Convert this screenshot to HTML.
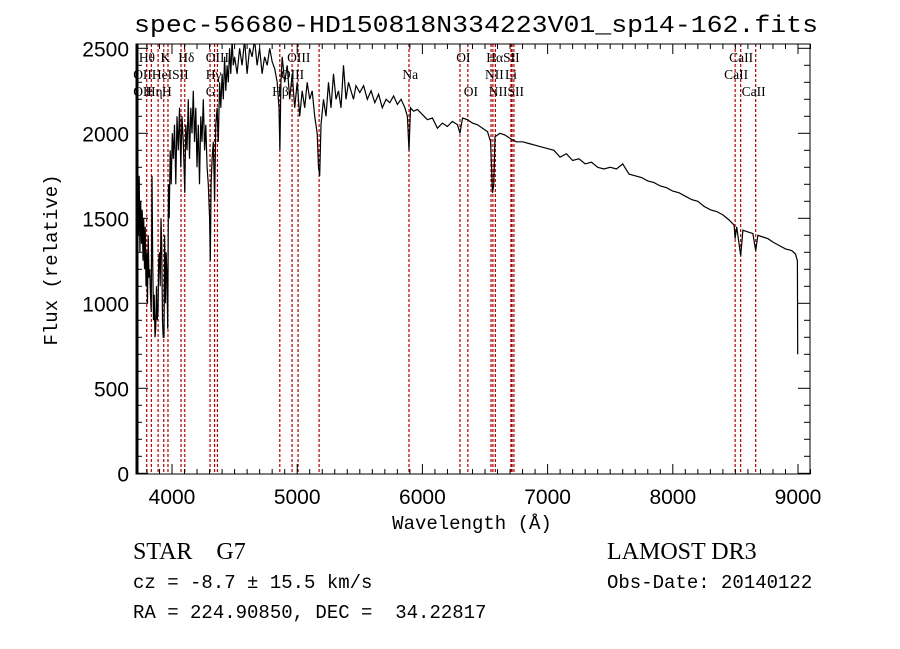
<!DOCTYPE html>
<html><head><meta charset="utf-8"><style>
body{margin:0;background:#fff}
svg{display:block}
text{fill:#000}
</style></head><body>
<svg id="chart" width="900" height="649" viewBox="0 0 900 649" xmlns="http://www.w3.org/2000/svg">
<rect width="900" height="649" fill="#fff"/>
<defs><clipPath id="clip"><rect x="136" y="44" width="674" height="430"/></clipPath></defs>
<text x="476" y="32" text-anchor="middle" font-family="Liberation Mono, monospace" font-size="24" textLength="684" lengthAdjust="spacingAndGlyphs">spec-56680-HD150818N334223V01_sp14-162.fits</text>
<g id="lines" clip-path="url(#clip)"></g>
<g id="labels"></g>
<g id="spec" clip-path="url(#clip)"></g>
<g id="axes"></g>
<text x="472" y="529" text-anchor="middle" font-family="Liberation Mono, monospace" font-size="19">Wavelength (Å)</text>
<text transform="translate(57,260) rotate(-90)" text-anchor="middle" font-family="Liberation Mono, monospace" font-size="19">Flux (relative)</text>
<text x="133" y="559" font-family="Liberation Serif, serif" font-size="24" xml:space="preserve">STAR    G7</text>
<text x="607" y="559" font-family="Liberation Serif, serif" font-size="24">LAMOST DR3</text>
<text x="133" y="588" font-family="Liberation Mono, monospace" font-size="19">cz = -8.7 ± 15.5 km/s</text>
<text x="607" y="588" font-family="Liberation Mono, monospace" font-size="19">Obs-Date: 20140122</text>
<text x="133" y="618" font-family="Liberation Mono, monospace" font-size="19" xml:space="preserve">RA = 224.90850, DEC =  34.22817</text>
</svg>
<script>
const wave=[3720,3722,3726,3732,3738,3744,3750,3756,3762,3768,3774,3780,3786,3792,3798,3804,3810,3816,3822,3828,3834,3840,3846,3852,3858,3864,3870,3876,3882,3888,3894,3900,3906,3912,3918,3924,3930,3936,3942,3948,3954,3960,3966,3972,3978,3986,3994,4002,4010,4020,4030,4040,4050,4060,4070,4080,4090,4102,4110,4120,4130,4140,4150,4160,4170,4180,4190,4200,4210,4220,4230,4240,4250,4260,4270,4280,4290,4300,4306,4312,4320,4330,4340,4350,4360,4370,4380,4390,4400,4410,4420,4430,4440,4450,4460,4470,4480,4490,4500,4520,4540,4560,4580,4600,4620,4640,4660,4680,4700,4720,4740,4760,4780,4800,4820,4840,4855,4862,4870,4880,4900,4920,4940,4960,4980,5000,5020,5040,5060,5080,5100,5120,5140,5160,5170,5180,5190,5210,5230,5250,5270,5290,5310,5330,5350,5370,5390,5410,5430,5450,5470,5500,5530,5560,5590,5620,5650,5680,5710,5740,5770,5800,5830,5860,5880,5893,5905,5930,5960,6000,6040,6080,6120,6160,6200,6240,6280,6300,6320,6360,6400,6440,6480,6520,6545,6560,6570,6580,6620,6660,6700,6750,6800,6850,6900,6950,7000,7050,7100,7150,7200,7250,7300,7350,7400,7450,7500,7550,7600,7650,7700,7750,7800,7850,7900,7950,8000,8050,8100,8150,8200,8250,8300,8350,8400,8450,8490,8498,8510,8542,8560,8600,8640,8662,8680,8720,8760,8800,8850,8900,8950,8980,8995,8998];
const flux=[0,300,1650,1400,1750,1300,1600,1350,1550,1250,1500,1200,1450,1100,1300,1000,1400,1150,1200,1050,950,1750,1250,900,1050,800,850,1100,900,950,1250,1300,1100,1500,1350,900,800,800,1400,1000,1300,1150,850,1700,1500,1900,1700,2000,1850,2050,1700,2100,1900,2150,1800,2100,1950,1650,2050,1900,2200,1850,2150,2000,2250,1950,2150,1800,2050,1700,2100,1950,2200,1900,2050,1800,1700,1500,1250,1700,1850,1950,1600,2050,2150,1950,2300,2150,2350,2200,2450,2250,2400,2300,2500,2350,2550,2400,2450,2350,2500,2400,2550,2350,2500,2450,2550,2400,2500,2350,2450,2400,2500,2420,2380,2300,2150,1900,2300,2450,2300,2400,2200,2350,2150,2300,2100,2250,2150,2300,2200,2250,2100,2000,1800,1750,2050,2200,2100,2300,2150,2350,2200,2250,2150,2400,2200,2300,2250,2200,2280,2240,2280,2200,2250,2180,2230,2150,2200,2180,2220,2170,2200,2150,2100,1900,2150,2130,2140,2110,2080,2090,2030,2060,2040,2070,2050,2000,2090,2080,2060,2050,2030,2010,1950,1650,1700,1980,2000,1990,1970,1950,1950,1940,1930,1920,1910,1900,1860,1880,1840,1850,1820,1830,1800,1790,1800,1790,1820,1760,1750,1740,1720,1710,1690,1680,1660,1650,1630,1610,1600,1570,1550,1540,1520,1490,1460,1380,1450,1280,1430,1420,1410,1310,1400,1390,1380,1360,1340,1320,1310,1290,1250,700];
const lineWaves=[3727,3798,3835,3889,3934,3968,4072,4102,4304,4340,4363,4861,4959,5007,5175,5893,6300,6363,6548,6563,6583,6707,6716,6731,8498,8542,8662];
const labelTexts=["Hθ","K","Hδ","OIII","OIII","OI","HαSII","CaII","OIIHeISII","Hγ","OIII","Na","NII","Li","CaII","OII","Hη","H","G","Hβ","OI","NIISII","CaII"];
const labelWaves=[3735,3908,4050,4270,4920,6270,6510,8450,3690,4270,4870,5840,6500,6660,8410,3690,3790,3920,4270,4800,6330,6530,8550];
const labelRows=[0,0,0,0,0,0,0,0,1,1,1,1,1,1,1,2,2,2,2,2,2,2,2];
const xTicks=[4000,5000,6000,7000,8000,9000];
const yTicks=[0,500,1000,1500,2000,2500];
const NS='http://www.w3.org/2000/svg';
const L=136,R=810,T=44,B=474;
const xs=w=>172+(w-4000)*0.1252;
const ys=f=>473.3-f*0.17;
function mk(tag,attrs,parent){const e=document.createElementNS(NS,tag);for(const k in attrs)e.setAttribute(k,attrs[k]);parent.appendChild(e);return e;}
const gl=document.getElementById('lines');
lineWaves.forEach(w=>{const l=mk('line',{x1:xs(w),x2:xs(w),y1:T,y2:B,stroke:'#b00000','stroke-width':1.2,'stroke-dasharray':'3,2'},gl);

});
const glab=document.getElementById('labels');
labelTexts.forEach((t,i)=>{const e=mk('text',{x:xs(labelWaves[i]),y:62+labelRows[i]*17,'font-family':'Liberation Serif, serif','font-size':13.5},glab);e.textContent=t;

});
const gs=document.getElementById('spec');
const pts=wave.map((w,i)=>xs(w).toFixed(1)+','+ys(flux[i]).toFixed(1)).join(' ');
const pl=mk('polyline',{points:pts,fill:'none',stroke:'#000','stroke-width':1.2,'stroke-linejoin':'miter'},gs);


const ga=document.getElementById('axes');
const fr=mk('rect',{x:L,y:T,width:R-L,height:B-T,fill:'none',stroke:'#000','stroke-width':1},ga);


const la=mk('line',{x1:L+1,x2:L+1,y1:T,y2:B,stroke:'#000','stroke-width':3},ga);


for(let w=3800;w<=9100;w+=100){const x=xs(w);const len=(w%1000===0)?10:5;
mk('line',{x1:x,x2:x,y1:B,y2:B-len,stroke:'#000'},ga);mk('line',{x1:x,x2:x,y1:T,y2:T+len,stroke:'#000'},ga);}
for(let f=0;f<=2500;f+=100){const y=ys(f);const len=(f%500===0)?12:6;
mk('line',{x1:L,x2:L+len,y1:y,y2:y,stroke:'#000'},ga);mk('line',{x1:R,x2:R-len,y1:y,y2:y,stroke:'#000'},ga);}
xTicks.forEach(w=>{const e=mk('text',{x:xs(w),y:504,'text-anchor':'middle','font-family':'Liberation Sans, sans-serif','font-size':21},ga);e.textContent=w;

});
yTicks.forEach(f=>{const e=mk('text',{x:129,y:ys(f)+8,'text-anchor':'end','font-family':'Liberation Sans, sans-serif','font-size':21},ga);e.textContent=f;

});
</script>
</body></html>
